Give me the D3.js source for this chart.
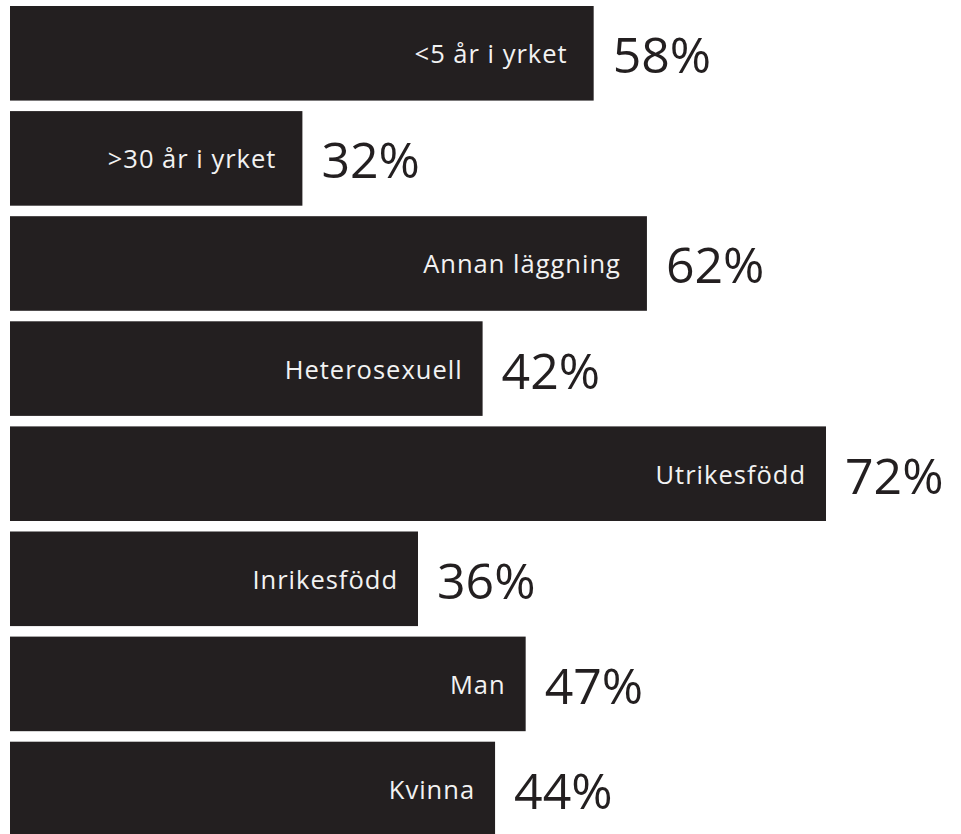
<!DOCTYPE html>
<html>
<head>
<meta charset="utf-8">
<script src="https://cdn.jsdelivr.net/npm/d3@7"></script>
<style>
	html, body { margin: 0; padding: 0; background: #fff; }
	svg { display: block; }
</style>
</head>
<body>
<svg></svg>
<script>
// Groups, top to bottom
const categories = ['<5 år i yrket', '>30 år i yrket', 'Annan läggning', 'Heterosexuell', 'Utrikesfödd', 'Inrikesfödd', 'Man', 'Kvinna'];
// Printed percentages
const percentLabels = [58, 32, 62, 42, 72, 36, 47, 44];
// Bar lengths as drawn in the original (it does not draw them exactly to the printed numbers)
const barValues = [51.5, 25.8, 56.2, 41.7, 72, 36, 45.5, 42.8];

const width = 961;
const height = 834;
const barColor = '#231f20';

const svg = d3.select('svg')
	.attr('width', width)
	.attr('height', height)
	.attr('viewBox', [0, 0, width, height]);

const x = d3.scaleLinear()
	.domain([0, 72])
	.range([10, 826]);

const y = d3.scaleBand()
	.domain(categories)
	.range([6, 6 + 105.1 * categories.length])
	.paddingInner(0.1)
	.paddingOuter(0.05)
	.align(0);

const rows = categories.map((c, i) => ({ name: c, pct: percentLabels[i], val: barValues[i], i: i }));

const g = svg.append('g');

const row = g.selectAll('g.row')
	.data(rows)
	.join('g')
	.attr('class', 'row');

row.append('rect')
	.attr('x', x(0))
	.attr('y', d => y(d.name))
	.attr('width', d => x(d.val) - x(0))
	.attr('height', y.bandwidth())
	.attr('fill', barColor);

// Category label inside the bar, right aligned (top three sit a bit further in)
row.append('text')
	.attr('x', d => x(d.val) - (d.i < 3 ? 26 : 20))
	.attr('y', d => y(d.name) + y.bandwidth() / 2 + 10)
	.attr('text-anchor', 'end')
	.attr('fill', '#f2f2f2')
	.style('font-family', '"Open Sans", sans-serif')
	.style('font-size', '25.5px')
	.style('letter-spacing', '1px')
	.text(d => d.name);

// Percentage after the bar
row.append('text')
	.attr('x', d => x(d.val) + 19)
	.attr('y', d => y(d.name) + y.bandwidth() / 2 + 20)
	.attr('fill', barColor)
	.style('font-family', '"Open Sans", sans-serif')
	.style('font-size', '50px')
	.text(d => d.pct + '%');
</script>
</body>
</html>
